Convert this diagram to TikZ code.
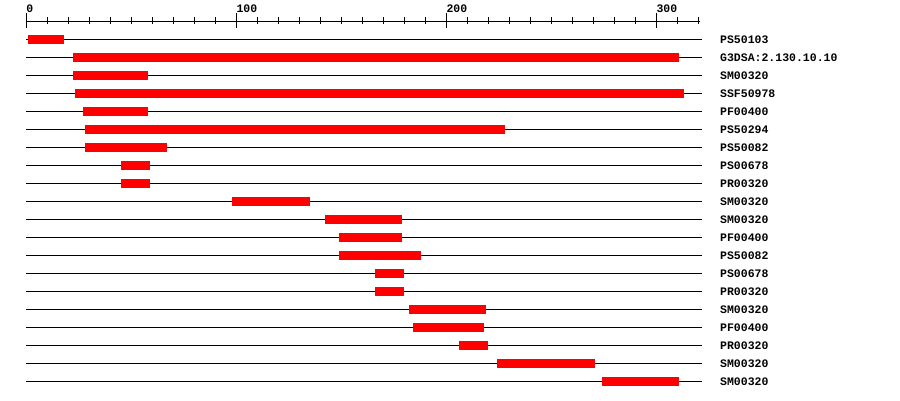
\documentclass[tikz,border=0pt]{standalone}
\usepackage{fontspec}
\setmonofont{Liberation Mono}
\usetikzlibrary{positioning}

\begin{document}
\begin{tikzpicture}[x=1pt,y=-1pt,
  track/.style={line width=1pt,black},
  hit/.style={fill=red},
  lab/.style={font=\ttfamily\bfseries\fontsize{11.5}{12}\selectfont,inner sep=0pt,anchor=west}]
\useasboundingbox (0,0) rectangle (900,400);
\begin{scope}[xshift=26.3pt,x=2.1pt]
% scale
\draw[track] (0,21.3) -- (320.8,21.3);
\foreach \t in {0,10,...,320}
  \draw[track] (\t,17.3) -- (\t,24.3);
\foreach \t in {0,100,200,300} {
  \draw[track] (\t,13.3) -- (\t,28.3);
  \node[lab,anchor=base west] (tick\t) at (\t,12.3) {\t};
}
% one row per match
\foreach \s/\e/\lab [count=\i] in {
    1/18/PS50103,
    22/311/G3DSA:2.130.10.10,
    22/58/SM00320,
    23/313/SSF50978,
    27/58/PF00400,
    28/228/PS50294,
    28/67/PS50082,
    45/59/PS00678,
    45/59/PR00320,
    98/135/SM00320,
    142/179/SM00320,
    149/179/PF00400,
    149/188/PS50082,
    166/180/PS00678,
    166/180/PR00320,
    182/219/SM00320,
    184/218/PF00400,
    206/220/PR00320,
    224/271/SM00320,
    274/311/SM00320} {
  \pgfmathsetmacro\y{39.3+18*(\i-1)}
  \draw[track] (0,\y) -- (321.6,\y) coordinate (t\i);
  \fill[hit] (\s,\y-4.5) rectangle (\e,\y+4.5);
  \node[lab,right=18.3pt of t\i] (l\i) {\lab};
}
\end{scope}
\end{tikzpicture}
\end{document}
